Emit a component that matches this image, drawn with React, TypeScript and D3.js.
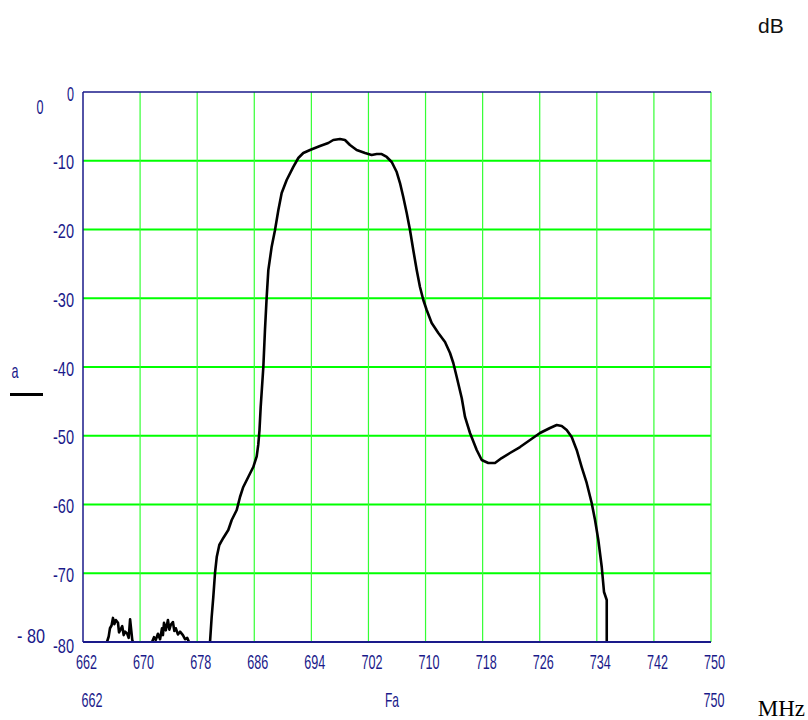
import React from "react";
import * as d3 from "d3";

const xTickValues = [662, 670, 678, 686, 694, 702, 710, 718, 726, 734, 742, 750];
const yTickValues = [0, -10, -20, -30, -40, -50, -60, -70, -80];

// noise clusters near the floor [MHz, dB]
const noiseA: [number, number][] = [
  [665.36, -80], [665.6, -79.2], [665.78, -78], [666.0, -77.6], [666.2, -76.5], [666.4, -77.4],
  [666.6, -76.8], [666.9, -77.2], [667.05, -78.6], [667.2, -78.3], [667.5, -77.7], [667.7, -79.0],
  [667.9, -78.5], [668.2, -78.8], [668.4, -79.4], [668.6, -76.7], [668.9, -79.7], [669.0, -80],
];
const noiseB: [number, number][] = [
  [671.67, -80], [671.95, -79.3], [672.2, -79.7], [672.5, -78.8], [672.8, -79.6],
  [673.07, -78.0], [673.2, -79.0], [673.35, -77.2], [673.6, -78.3], [673.9, -76.8], [674.1, -78.2],
  [674.3, -77.5], [674.6, -77.1], [674.8, -78.4], [675.0, -78.0], [675.3, -78.9], [675.6, -78.5],
  [676.0, -79.0], [676.3, -79.6], [676.6, -79.4], [676.85, -80],
];
// main filter response [MHz, dB]
const responseCurve: [number, number][] = [
  [679.8, -80], [680.03, -76.36], [680.26, -73.45], [680.5, -69.96], [680.74, -67.64],
  [681.1, -65.89], [681.66, -64.87], [682.36, -63.71], [682.84, -62.25], [683.54, -60.8],
  [684.0, -58.91], [684.46, -57.45], [685.16, -56.0], [685.86, -54.55], [686.34, -53.0],
  [686.56, -51.3], [686.73, -49.2], [686.9, -45.8], [687.27, -40.0], [687.5, -34.6],
  [687.74, -29.8], [687.97, -25.9], [688.44, -22.5], [688.9, -20.1], [689.37, -17.2],
  [689.84, -14.7], [690.54, -12.8], [691.47, -10.9], [692.17, -9.6], [692.87, -8.87],
  [693.81, -8.44], [695.21, -7.85], [696.37, -7.42], [697.07, -6.98], [698.01, -6.84],
  [698.71, -6.98], [699.41, -7.71], [700.35, -8.44], [701.52, -8.87], [702.45, -9.16],
  [703.16, -9.02], [703.86, -9.02], [704.56, -9.45], [705.26, -10.18], [705.96, -11.64],
  [706.42, -13.24], [706.88, -15.27], [707.36, -17.6], [707.82, -20.07], [708.28, -22.98],
  [708.76, -25.89], [709.22, -28.36], [709.69, -30.25], [710.16, -31.71], [710.86, -33.6],
  [711.79, -35.05], [712.73, -36.36], [713.43, -37.96], [713.89, -39.42], [714.37, -41.45],
  [715.07, -44.5], [715.53, -47.27], [716.23, -49.6], [717.17, -52.07], [717.87, -53.53],
  [718.79, -53.96], [719.73, -53.96], [720.67, -53.24], [721.83, -52.51], [723.24, -51.64],
  [724.64, -50.62], [726.04, -49.6], [727.44, -48.87], [728.38, -48.44], [729.08, -48.58],
  [729.78, -49.16], [730.48, -50.18], [731.18, -52.07], [731.88, -54.55], [732.58, -56.87],
  [733.28, -59.78], [733.75, -62.25], [734.21, -65.16], [734.69, -69.09], [735.01, -72.73],
  [735.39, -73.89], [735.39, -80],
];

const NAVY = "#1a1a8a";
const LABEL_FONT = "'Liberation Sans Narrow', 'Arial Narrow', 'Liberation Sans', sans-serif";

export default function App() {
  const left = 83, right = 711, top = 92, bottom = 642;
  const x = d3.scaleLinear().domain([662, 750]).range([left, right]);
  const y = d3.scaleLinear().domain([0, -80]).range([top, bottom]);
  const line = d3.line<[number, number]>().x((d) => x(d[0])).y((d) => y(d[1]));

  const lbl = (txt: string, cx: number, cy: number, anchor: "start" | "middle" | "end" = "middle") => (
    <text
      x={cx}
      y={cy}
      textAnchor={anchor}
      dominantBaseline="central"
      fontFamily={LABEL_FONT}
      fontSize={21}
      fill={NAVY}
      textLength={txt.length * 7}
      lengthAdjust="spacingAndGlyphs"
    >
      {txt}
    </text>
  );

  return (
    <div style={{ position: "absolute", left: 0, top: 0 }}>
      <svg width={808} height={720} style={{ display: "block", background: "#fff" }}>
        {/* horizontal grid */}
        {yTickValues.filter((v) => v !== 0 && v !== -80).map((v) => (
          <line key={"h" + v} x1={left} x2={right} y1={y(v)} y2={y(v)} stroke="#00ff00" strokeWidth={2} />
        ))}
        {/* vertical grid */}
        {xTickValues.filter((v) => v !== 662).map((v) => (
          <line key={"v" + v} x1={x(v)} x2={x(v)} y1={top} y2={bottom} stroke="#33ff33" strokeWidth={1.2} />
        ))}
        {/* traces */}
        {[noiseA, noiseB, responseCurve].map((d, i) => (
          <path key={"t" + i} d={line(d) || ""} fill="none" stroke="#000" strokeWidth={2.6} strokeLinejoin="round" />
        ))}
        {/* frame */}
        <line x1={left} x2={right} y1={top} y2={top} stroke={NAVY} strokeWidth={1.5} />
        <line x1={left} x2={left} y1={top} y2={bottom} stroke={NAVY} strokeWidth={1.5} />
        <line x1={left} x2={right} y1={bottom} y2={bottom} stroke={NAVY} strokeWidth={2} />

        {/* y tick labels */}
        {yTickValues.map((v) => (
          <React.Fragment key={"yl" + v}>{lbl(String(v), 74, y(v) + (v === -80 ? 3 : 1), "end")}</React.Fragment>
        ))}
        {/* x tick labels */}
        {xTickValues.map((v) => (
          <React.Fragment key={"xl" + v}>{lbl(String(v), x(v) + 3.5, 661)}</React.Fragment>
        ))}

        {/* extra labels */}
        {lbl("0", 40, 106)}
        {lbl("- 80", 31, 635)}
        {lbl("a", 15, 370)}
        <line x1={10} x2={43} y1={394.5} y2={394.5} stroke="#000" strokeWidth={3} />
        {lbl(String(xTickValues[0]), 92, 699)}
        {lbl(String(xTickValues[xTickValues.length - 1]), 714, 699)}
        {lbl("Fa", 392, 699)}

        <text x={805} y={716} textAnchor="end" fontFamily="'Liberation Serif', 'Times New Roman', serif" fontSize={23} fill="#000">MHz</text>
        <text x={758} y={33} fontFamily="'Liberation Sans', Arial, sans-serif" fontSize={21} fill="#111">dB</text>
      </svg>
    </div>
  );
}
